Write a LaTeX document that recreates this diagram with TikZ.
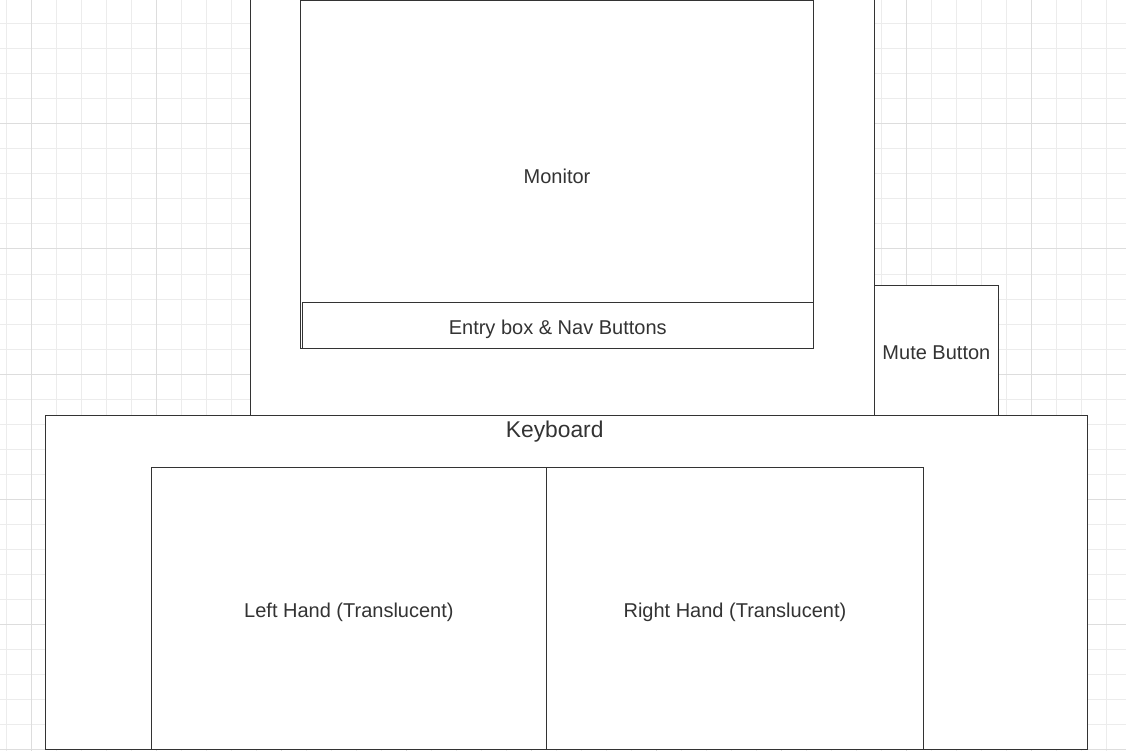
\documentclass[tikz,border=0pt]{standalone}
\usepackage{fontspec}
\setmainfont{Liberation Sans}
\usepackage{tikz}

\definecolor{edge}{HTML}{333333}
\definecolor{gridMinor}{HTML}{ECECEC}
\definecolor{gridMajor}{HTML}{DDDDDD}

\begin{document}
\begin{tikzpicture}[
    x=1pt, y=-1pt,
    minorLine/.style={gridMinor, line width=1pt},
    majorLine/.style={gridMajor, line width=1pt},
    part/.style={rectangle, draw=edge, fill=white, line width=1pt, inner sep=0pt, outer sep=0pt, text=edge, text height=20pt, text depth=2pt, font=\fontsize{20}{24}\selectfont},
    caption/.style={text=edge, inner sep=0pt, font=\fontsize{22.8}{27}\selectfont}
]
\useasboundingbox (0,0) rectangle (1126,751);
\clip (0,0) rectangle (1126,751);

% Background grid
\foreach \x in {6,31,...,1106} \draw[minorLine] (\x,0) -- (\x,751);
\foreach \y in {24,49,...,749} \draw[minorLine] (0,\y) -- (1126,\y);
\foreach \x in {31,156,...,1106} \draw[majorLine] (\x,0) -- (\x,751);
\foreach \y in {124,249,...,749} \draw[majorLine] (0,\y) -- (1126,\y);

% Monitor housing
\node[part, minimum width=624.5pt, minimum height=425pt] (housing) at (562.25,202.5) {};
\node[part, minimum width=513.5pt, minimum height=347.5pt] (monitor) at (557,174.25) {Monitor};
\node[part, minimum width=511.5pt, minimum height=46pt] (entry) at (557.75,325.3) {Entry box \& Nav Buttons};
\node[part, minimum width=123.8pt, minimum height=129.8pt] (mute) at (936.4,350.4) {Mute Button};

% Keyboard and hands
\node[part, minimum width=1042pt, minimum height=334pt] (keyboard) at (566.3,582.3) {};
\node[caption, anchor=base] (keyboardLabel) at (554.7,437.3) {Keyboard};
\node[part, minimum width=395.2pt, minimum height=282pt] (leftHand) at (348.9,608.3) {Left Hand (Translucent)};
\node[part, minimum width=376.8pt, minimum height=282pt] (rightHand) at (734.9,608.3) {Right Hand (Translucent)};

\end{tikzpicture}
\end{document}
